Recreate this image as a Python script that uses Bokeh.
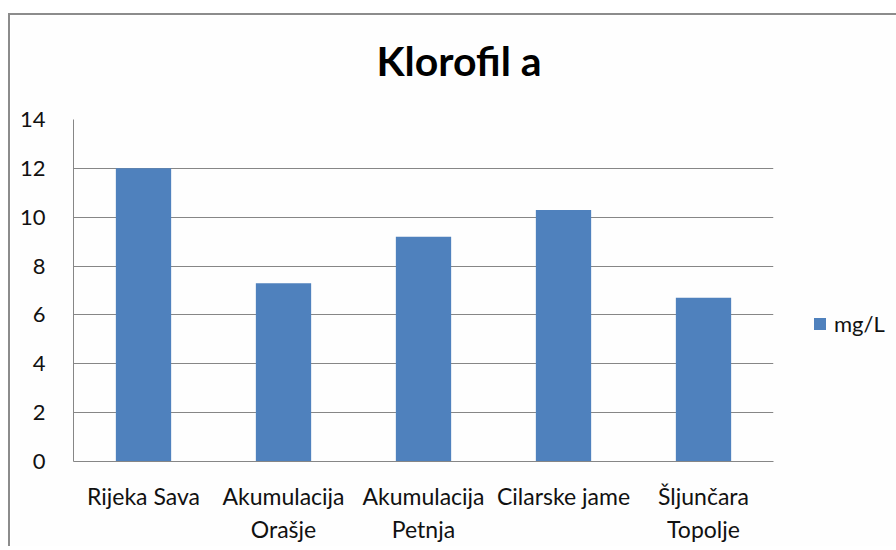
from bokeh.plotting import figure
from bokeh.models import ColumnDataSource, FactorRange, Range1d, FixedTicker, Legend, LegendItem, Title
from bokeh.embed import file_html
from bokeh.resources import INLINE

categories = ["Rijeka Sava", "Akumulacija\nOrašje", "Akumulacija\nPetnja", "Cilarske jame", "Šljunčara\nTopolje"]
values = [12.0, 7.3, 9.2, 10.3, 6.7]
y_ticks = [0, 2, 4, 6, 8, 10, 12, 14]
series_name = "mg/L"
title_text = "Klorofil a"

FONT = "Lato"
GRAY = "#868686"
BAR = "#4F81BD"

src = ColumnDataSource(dict(cat=categories, val=values))

p = figure(x_range=FactorRange(*categories), y_range=Range1d(0, 14),
           output_backend="svg", toolbar_location=None,
           frame_width=700, frame_height=342,
           min_border_left=63, min_border_top=104, min_border_right=100, min_border_bottom=60,
           background_fill_color="#FEFEFE", border_fill_color="#FEFEFE")
p.outline_line_color = None
p.styles = {"margin-left": "8px", "margin-top": "13px",
            "border-left": "2px solid #8c8c8c", "border-top": "2px solid #8c8c8c"}

r = p.vbar(x="cat", top="val", width=0.395, source=src, fill_color=BAR, line_color=None)

p.title.text = title_text
p.title.text_font = FONT
p.title.text_font_size = "41px"
p.title.text_font_style = "bold"
p.title.text_color = "#000000"
p.title.align = "left"
p.title.offset = 303

spacer = Title(text=" ", text_font_size="15px", text_font=FONT)
p.add_layout(spacer, "above")

p.yaxis.ticker = FixedTicker(ticks=y_ticks)
p.yaxis.major_tick_line_color = None
p.yaxis.minor_tick_line_color = None
p.yaxis.axis_line_color = GRAY
p.yaxis.major_label_text_font = FONT
p.yaxis.major_label_text_font_size = "22px"
p.yaxis.major_label_text_color = "#111111"
p.yaxis.major_label_standoff = 22

p.xaxis.major_tick_line_color = None
p.xaxis.minor_tick_line_color = None
p.xaxis.axis_line_color = GRAY
p.xaxis.major_label_text_font = FONT
p.xaxis.major_label_text_font_size = "23px"
p.xaxis.major_label_text_color = "#111111"
p.xaxis.major_label_standoff = 14

p.xgrid.grid_line_color = None
p.ygrid.grid_line_color = GRAY
p.ygrid.grid_line_width = 1

legend = Legend(items=[LegendItem(label=series_name, renderers=[r])],
                location=(39, 124), padding=0, margin=0, border_line_color=None,
                background_fill_alpha=0, glyph_width=15, glyph_height=15,
                label_text_font=FONT, label_text_font_size="22px", label_standoff=7,
                label_height=15, label_text_color="#111111")
p.add_layout(legend, "right")

open("out.html", "w").write(file_html(p, INLINE))
